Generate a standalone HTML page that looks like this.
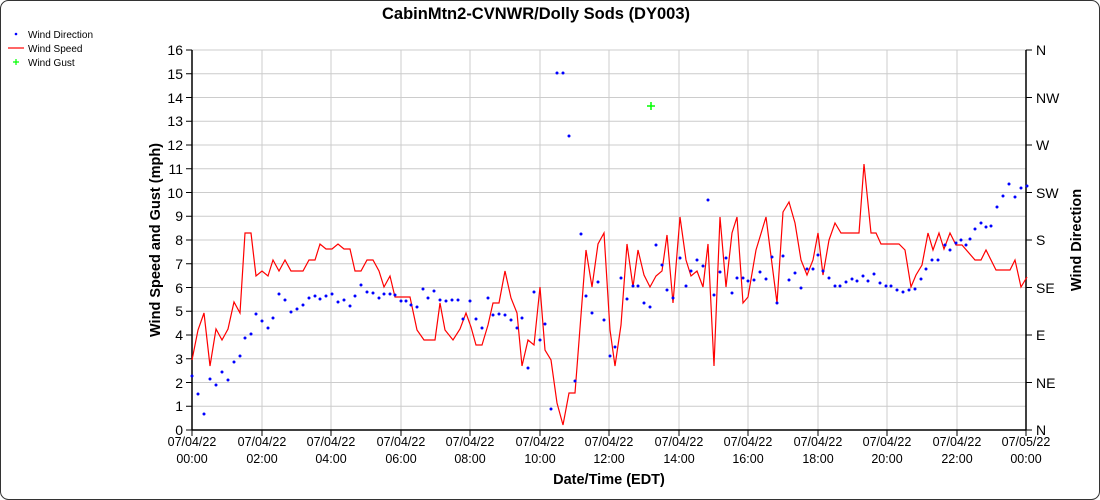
<!DOCTYPE html>
<html><head><meta charset="utf-8"><style>
body{margin:0;background:#fff}
svg{display:block;font-family:"Liberation Sans",Arial,sans-serif}
</style></head><body>
<svg width="1100" height="500" viewBox="0 0 1100 500" xmlns="http://www.w3.org/2000/svg">
<rect x="0.5" y="0.5" width="1099" height="499" rx="8" fill="#fff" stroke="#333"/>
<text x="536" y="19" text-anchor="middle" font-size="16.5" font-weight="bold">CabinMtn2-CVNWR/Dolly Sods (DY003)</text>
<g stroke="#ccc" stroke-width="1">
<line x1="192" y1="406.25" x2="1026" y2="406.25"/><line x1="192" y1="382.5" x2="1026" y2="382.5"/><line x1="192" y1="358.75" x2="1026" y2="358.75"/><line x1="192" y1="335" x2="1026" y2="335"/><line x1="192" y1="311.25" x2="1026" y2="311.25"/><line x1="192" y1="287.5" x2="1026" y2="287.5"/><line x1="192" y1="263.75" x2="1026" y2="263.75"/><line x1="192" y1="240" x2="1026" y2="240"/><line x1="192" y1="216.25" x2="1026" y2="216.25"/><line x1="192" y1="192.5" x2="1026" y2="192.5"/><line x1="192" y1="168.75" x2="1026" y2="168.75"/><line x1="192" y1="145" x2="1026" y2="145"/><line x1="192" y1="121.25" x2="1026" y2="121.25"/><line x1="192" y1="97.5" x2="1026" y2="97.5"/><line x1="192" y1="73.75" x2="1026" y2="73.75"/><line x1="192" y1="50" x2="1026" y2="50"/>
<line x1="262" y1="50" x2="262" y2="430"/><line x1="331" y1="50" x2="331" y2="430"/><line x1="401" y1="50" x2="401" y2="430"/><line x1="470" y1="50" x2="470" y2="430"/><line x1="540" y1="50" x2="540" y2="430"/><line x1="609" y1="50" x2="609" y2="430"/><line x1="679" y1="50" x2="679" y2="430"/><line x1="748" y1="50" x2="748" y2="430"/><line x1="818" y1="50" x2="818" y2="430"/><line x1="887" y1="50" x2="887" y2="430"/><line x1="957" y1="50" x2="957" y2="430"/>
</g>
<g stroke="#000" stroke-width="1.5">
<line x1="192" y1="50" x2="192" y2="430"/><line x1="1026" y1="50" x2="1026" y2="430"/><line x1="192" y1="430" x2="1026" y2="430"/>
</g>
<g stroke="#000" stroke-width="1">
<path d="M186 430h6M186 406.25h6M186 382.5h6M186 358.75h6M186 335h6M186 311.25h6M186 287.5h6M186 263.75h6M186 240h6M186 216.25h6M186 192.5h6M186 168.75h6M186 145h6M186 121.25h6M186 97.5h6M186 73.75h6M186 50h6"/>
<path d="M1026 50h6M1026 97.5h6M1026 145h6M1026 192.5h6M1026 240h6M1026 287.5h6M1026 335h6M1026 382.5h6M1026 430h6"/>
<path d="M192 430v6M262 430v6M331 430v6M401 430v6M470 430v6M540 430v6M609 430v6M679 430v6M748 430v6M818 430v6M887 430v6M957 430v6M1026 430v6"/>
</g>
<g font-size="14" text-anchor="end">
<text x="183" y="435">0</text><text x="183" y="411">1</text><text x="183" y="388">2</text><text x="183" y="364">3</text><text x="183" y="340">4</text><text x="183" y="316">5</text><text x="183" y="293">6</text><text x="183" y="269">7</text><text x="183" y="245">8</text><text x="183" y="221">9</text><text x="183" y="198">10</text><text x="183" y="174">11</text><text x="183" y="150">12</text><text x="183" y="126">13</text><text x="183" y="103">14</text><text x="183" y="79">15</text><text x="183" y="55">16</text>
</g>
<g font-size="14">
<text x="1036" y="55">N</text><text x="1036" y="103">NW</text><text x="1036" y="150">W</text><text x="1036" y="198">SW</text><text x="1036" y="245">S</text><text x="1036" y="293">SE</text><text x="1036" y="340">E</text><text x="1036" y="388">NE</text><text x="1036" y="435">N</text>
</g>
<g font-size="12.5" text-anchor="middle">
<text x="192" y="446">07/04/22</text><text x="192" y="463">00:00</text>
<text x="262" y="446">07/04/22</text><text x="262" y="463">02:00</text>
<text x="331" y="446">07/04/22</text><text x="331" y="463">04:00</text>
<text x="401" y="446">07/04/22</text><text x="401" y="463">06:00</text>
<text x="470" y="446">07/04/22</text><text x="470" y="463">08:00</text>
<text x="540" y="446">07/04/22</text><text x="540" y="463">10:00</text>
<text x="609" y="446">07/04/22</text><text x="609" y="463">12:00</text>
<text x="679" y="446">07/04/22</text><text x="679" y="463">14:00</text>
<text x="748" y="446">07/04/22</text><text x="748" y="463">16:00</text>
<text x="818" y="446">07/04/22</text><text x="818" y="463">18:00</text>
<text x="887" y="446">07/04/22</text><text x="887" y="463">20:00</text>
<text x="957" y="446">07/04/22</text><text x="957" y="463">22:00</text>
<text x="1026" y="446">07/05/22</text><text x="1026" y="463">00:00</text>
</g>
<text x="609" y="484" text-anchor="middle" font-size="14.5" font-weight="bold">Date/Time (EDT)</text>
<text transform="translate(160 240) rotate(-90)" text-anchor="middle" font-size="14.5" font-weight="bold">Wind Speed and Gust (mph)</text>
<text transform="translate(1081 240) rotate(-90)" text-anchor="middle" font-size="14.5" font-weight="bold">Wind Direction</text>
<polyline fill="none" stroke="#f00" stroke-width="1.2" points="192,360 198,330 204,313 210,366 216,329 222,340 228,329 234,302 240,313 245,233 251,233 256,276 262,271 268,276 273,260 279,271 285,260 291,271 297,271 303,271 309,260 315,260 320,244 326,249 332,249 338,244 344,249 350,249 355,271 361,271 367,260 373,260 379,271 384,287 390,276 395,297 405,297 410,297 417,330 424,340 435,340 440,303 445,330 453,340 460,329 466,313 471,327 476,345 482,345 488,325 493,303 499,303 505,271 511,298 517,313 522,366 528,340 534,345 540,287 545,350 551,360 557,403 563,425 569,393 575,393 581,315 586,250 592,287 598,244 604,233 610,330 615,366 621,325 627,244 633,287 638,250 644,275 650,287 656,276 662,271 667,235 673,303 680,217 686,260 691,276 697,271 703,287 708,244 714,366 720,217 726,287 732,233 737,217 743,303 748,297 756,250 766,217 777,303 783,212 789,202 795,223 801,260 807,275 813,260 818,233 823,275 829,240 835,223 841,233 859,233 864,164 871,233 876,233 881,244 899,244 905,250 911,287 916,275 922,265 928,233 933,250 939,233 944,249 950,233 956,245 962,245 975,260 981,260 986,250 996,270 1010,270 1015,260 1021,287 1027,277"/>
<g fill="#00f" id="dots"></g>
<g stroke="#0f0" stroke-width="1.5"><path d="M647 106h8M651 102v8"/></g>
<g font-size="10">
<circle cx="16" cy="34" r="1.3" fill="#00f"/><text x="28" y="38">Wind Direction</text>
<line x1="8" y1="48" x2="24" y2="48" stroke="#f00" stroke-width="1.2"/><text x="28" y="52">Wind Speed</text>
<path d="M13 62h6M16 59v6" stroke="#0f0" stroke-width="1.2"/><text x="28" y="66">Wind Gust</text>
</g>
</svg>
<script>
var p=[192,376,198,394,204,414,210,379,216,385,222,372,228,380,234,362,240,356,245,338,251,334,256,314,262,321,268,328,273,318,279,294,285,300,291,312,297,309,303,305,309,298,315,296,320,299,326,296,332,294,338,302,344,300,350,306,355,296,361,285,367,292,373,293,379,298,384,294,390,294,395,295,401,301,406,301,411,305,417,307,423,289,428,298,434,291,440,300,446,301,452,300,458,300,463,319,470,301,476,319,482,328,488,298,493,315,499,314,505,315,511,320,517,328,522,318,528,368,534,292,540,340,545,324,551,409,557,73,563,73,569,136,575,381,581,234,586,296,592,313,598,282,604,320,610,356,615,347,621,278,627,299,633,286,638,286,644,303,650,307,656,245,662,265,667,290,673,298,680,258,686,286,691,271,697,260,703,266,708,200,714,295,720,272,726,258,732,293,737,278,743,278,748,281,754,280,760,272,766,279,772,257,777,303,783,256,789,280,795,273,801,288,807,269,813,269,818,255,823,271,829,278,835,286,840,286,846,282,852,279,857,281,863,276,868,281,874,274,880,283,886,286,891,286,897,290,903,292,909,290,915,289,921,279,926,269,932,260,938,260,945,245,950,250,956,243,961,240,966,245,970,239,975,229,981,223,986,227,991,226,997,207,1003,196,1009,184,1015,197,1021,188,1027,186];
var g=document.getElementById('dots'),s='';
for(var i=0;i<p.length;i+=2)s+='<circle cx="'+p[i]+'" cy="'+p[i+1]+'" r="1.5"/>';
g.innerHTML=s;
</script>
</body></html>
